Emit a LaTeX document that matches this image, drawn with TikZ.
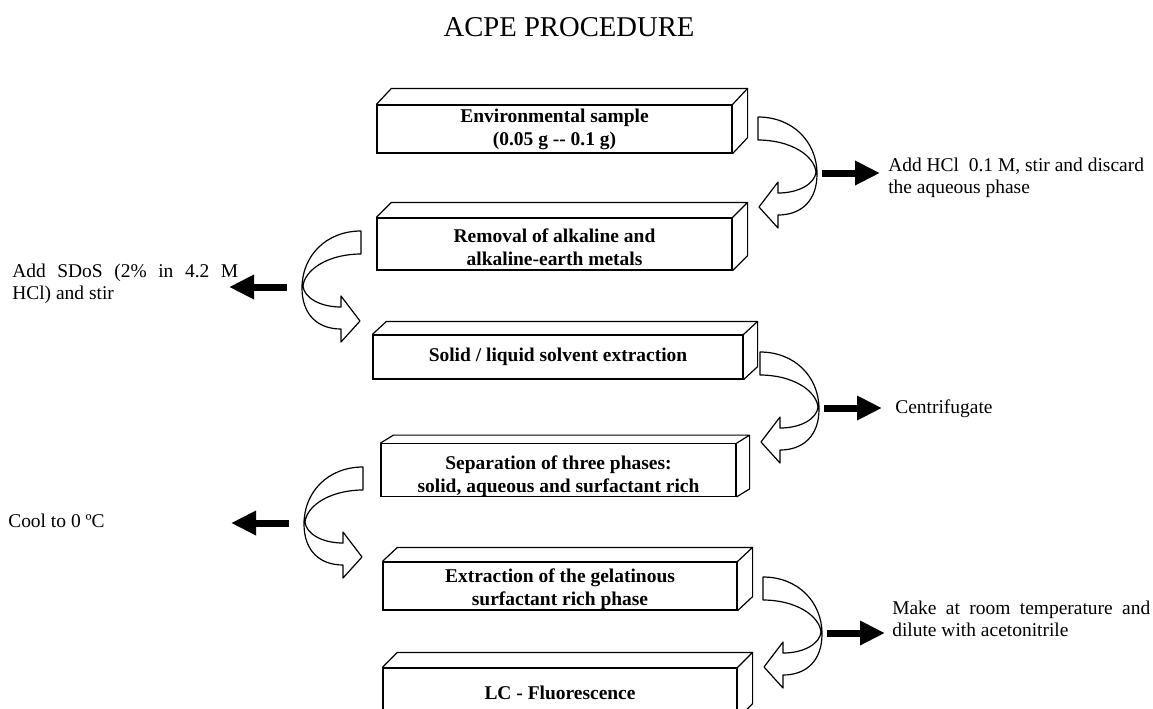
\documentclass[tikz,border=0pt]{standalone}
\usepackage{fontspec}
\setmainfont{Liberation Serif}
\usetikzlibrary{arrows.meta}

\begin{document}
\begin{tikzpicture}[
x=0.75pt,
y=-0.75pt,
box/.style={
  draw,
  fill=white,
  line width=0.9pt,
  inner sep=0pt,
  align=center,
  font=\fontsize{14.6}{17.3}\selectfont\bfseries
  },
face/.style={
  draw,
  line width=0.9pt,
  line join=round
  },
hollow/.style={
  draw,
  fill=white,
  line width=0.9pt,
  line join=round
  },
lbl/.style={
  inner sep=0pt,
  font=\fontsize{14.6}{16.5}\selectfont
  },
blk/.style={
  line width=5.25pt,
  -{Triangle[length=18.75pt,width=17.25pt]}
  },
pics/bend/.style={code={
  \draw[hollow] (0,0) .. controls (35,0) and (59,25) .. (59,57)
    .. controls (59,84) and (43,98) .. (20,98) -- (20,111) -- (1,90)
    -- (20,65) -- (20,76) .. controls (42,76) and (57,66) .. (58,55)
    .. controls (56,38) and (32,23) .. (0,23) -- cycle;
  \coordinate (-from) at (#1,56);
  \coordinate (-to) at (#1+58,56);
  }}
]
\useasboundingbox (0,0) rectangle (1153,708);

\node[font=\fontsize{21.5}{24}\selectfont, anchor=base] (title) at (569,36) {ACPE PROCEDURE};

% procedure steps
\node[box, minimum width=266.25pt, minimum height=36pt] (b1) at (554.5,129)
  {Environmental sample\\(0.05 g -{}- 0.1 g)};
\node[box, minimum width=266.25pt, minimum height=39pt] (b2) at (554.5,244)
  {\rule{0pt}{15.2pt}Removal of alkaline and\\alkaline-earth metals};
\node[box, minimum width=277.5pt, minimum height=33pt] (b3) at (558,357)
  {Solid / liquid solvent extraction};
\node[box, minimum width=266.25pt, minimum height=39pt] (b4) at (558.5,470)
  {\rule{0pt}{19pt}Separation of three phases:\\solid, aqueous and surfactant rich};
\node[box, minimum width=265.5pt, minimum height=36pt] (b5) at (560,586)
  {\rule{0pt}{15.2pt}Extraction of the gelatinous\\surfactant rich phase};
\node[box, minimum width=265.5pt, minimum height=37.5pt] (b6) at (560,693)
  {LC - Fluorescence};

\foreach \b/\dx/\dy in {b1/15/16, b2/15/15, b3/14/13, b4/13/8, b5/15/14, b6/15/15}
  \draw[face] (\b.north west) -- ++(\dx,-\dy) -- ([shift={(\dx,-\dy)}]\b.north east)
    -- ([shift={(\dx,-\dy)}]\b.south east) -- (\b.south east)
    (\b.north east) -- ++(\dx,-\dy);

% curved arrows
\pic (c1) at (758,117) {bend=64};
\pic (c2) at (760,352) {bend=64};
\pic (c3) at (763,577) {bend=64};
\pic[xscale=-1] (c4) at (361,231) {bend=74};
\pic[xscale=-1] (c5) at (363,467) {bend=74};

% operations
\node[lbl, anchor=north west, align=left] (t1) at (888,157.5)
  {Add HCl\ \ 0.1 M, stir and discard\\the aqueous phase};
\node[lbl, anchor=base west] (t2) at (895,413) {Centrifugate};
\node[lbl, anchor=north west, text width=193.5pt, align=justify] (t3) at (892,600.5)
  {Make at room temperature and\linebreak dilute with acetonitrile};
\node[lbl, anchor=north west, text width=169.5pt, align=justify] (t4) at (12,263.5)
  {Add SDoS (2\% in 4.2 M\linebreak HCl) and stir};
\node[lbl, anchor=base west] (t5) at (8,527) {Cool to 0 ºC};

\foreach \c in {c1,c2,c3,c4,c5}
  \draw[blk] (\c-from) -- (\c-to);
\end{tikzpicture}
\end{document}
